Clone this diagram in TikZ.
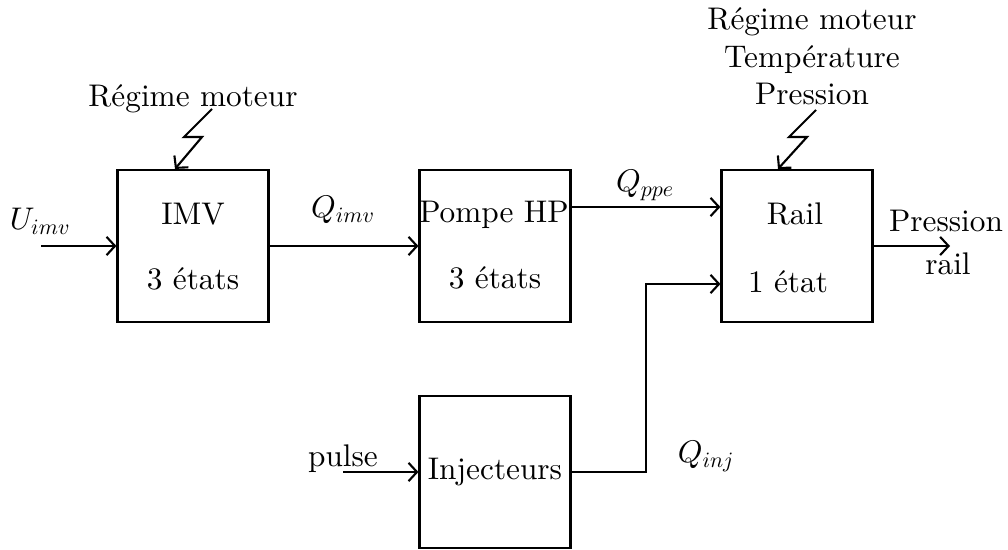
\documentclass[tikz,border=0pt]{standalone}
\usepackage{fontspec}
\setmainfont{lmroman10-regular.otf}[ItalicFont=lmroman10-italic.otf, BoldFont=lmroman10-bold.otf]
\DeclareFontShape{OML}{cmm}{m}{it}{<->cmmi10}{}
\DeclareFontShape{OT1}{cmr}{m}{n}{<->cmr10}{}
\usetikzlibrary{arrows.meta}
\tikzset{
  blk/.style={draw, line width=1.5pt, minimum width=3.775cm, minimum height=3.8cm, inner sep=0pt},
  txt/.style={anchor=base, inner sep=0pt},
  conn/.style={line width=1.5pt, -{Straight Barb[length=6pt, width=13pt]}},
}
\begin{document}
\begin{tikzpicture}[x=0.025cm, y=-0.025cm, font=\fontsize{22.25}{27}\selectfont]
\useasboundingbox (0,0) rectangle (1008,550);
% boxes
\node[blk] (imv) at (193,246) {};
\node[blk] (pompe) at (495,246) {};
\node[blk] (rail) at (797,246) {};
\node[blk] (inj) at (495,472) {};
% box texts
\node[txt] (timv) at (193,225) {IMV};
\node[txt] (simv) at (193,290) {3 états};
\node[txt] (tpompe) at (494,223) {Pompe HP};
\node[txt] (spompe) at (495,289) {3 états};
\node[txt] (trail) at (795,225) {Rail};
\node[txt] (srail) at (788,293) {1 état};
\node[txt] (tinj) at (495,480) {Injecteurs};
% external labels
\node[txt] (lregime) at (193,107) {Régime moteur};
\node[txt] (l1) at (812,30) {Régime moteur};
\node[txt] (l2) at (812,68) {Température};
\node[txt] (l3) at (812,105) {Pression};
\node[txt] (luimv) at (40,230) {$U_{imv}$};
\node[txt] (lqimv) at (343,218) {$Q_{imv}$};
\node[txt] (lqppe) at (645,192) {$Q_{ppe}$};
\node[txt] (lqinj) at (706,463) {$Q_{inj}$};
\node[txt] (lpulse) at (343,467) {pulse};
\node[txt] (lpr1) at (946,232) {Pression};
\node[txt] (lpr2) at (948,275) {rail};
% free ends
\coordinate (uin) at (41,246);
\coordinate (pin) at (343,472);
\coordinate (rout) at (950,246);
\coordinate (z1a) at (212,109);
\coordinate (z1b) at (184,137);
\coordinate (z1c) at (202,137);
\coordinate (z2a) at (816,110);
\coordinate (z2b) at (789,137);
\coordinate (z2c) at (807,137);
% connectors
\draw[conn] (uin) -- (imv.west);
\draw[conn] (imv.east) -- (pompe.west);
\draw[conn] (pompe.east |- 0,207) -- (rail.west |- 0,207);
\draw[conn] (rail.east) -- (rout);
\draw[conn] (pin) -- (inj.west);
\draw[conn] (inj.east) -- (646,472) -- (646,284) -- (rail.west |- 0,284);
\draw[conn] (z1a) -- (z1b) -- (z1c) -- (imv.north -| 175,0);
\draw[conn] (z2a) -- (z2b) -- (z2c) -- (rail.north -| 778,0);
\end{tikzpicture}
\end{document}
